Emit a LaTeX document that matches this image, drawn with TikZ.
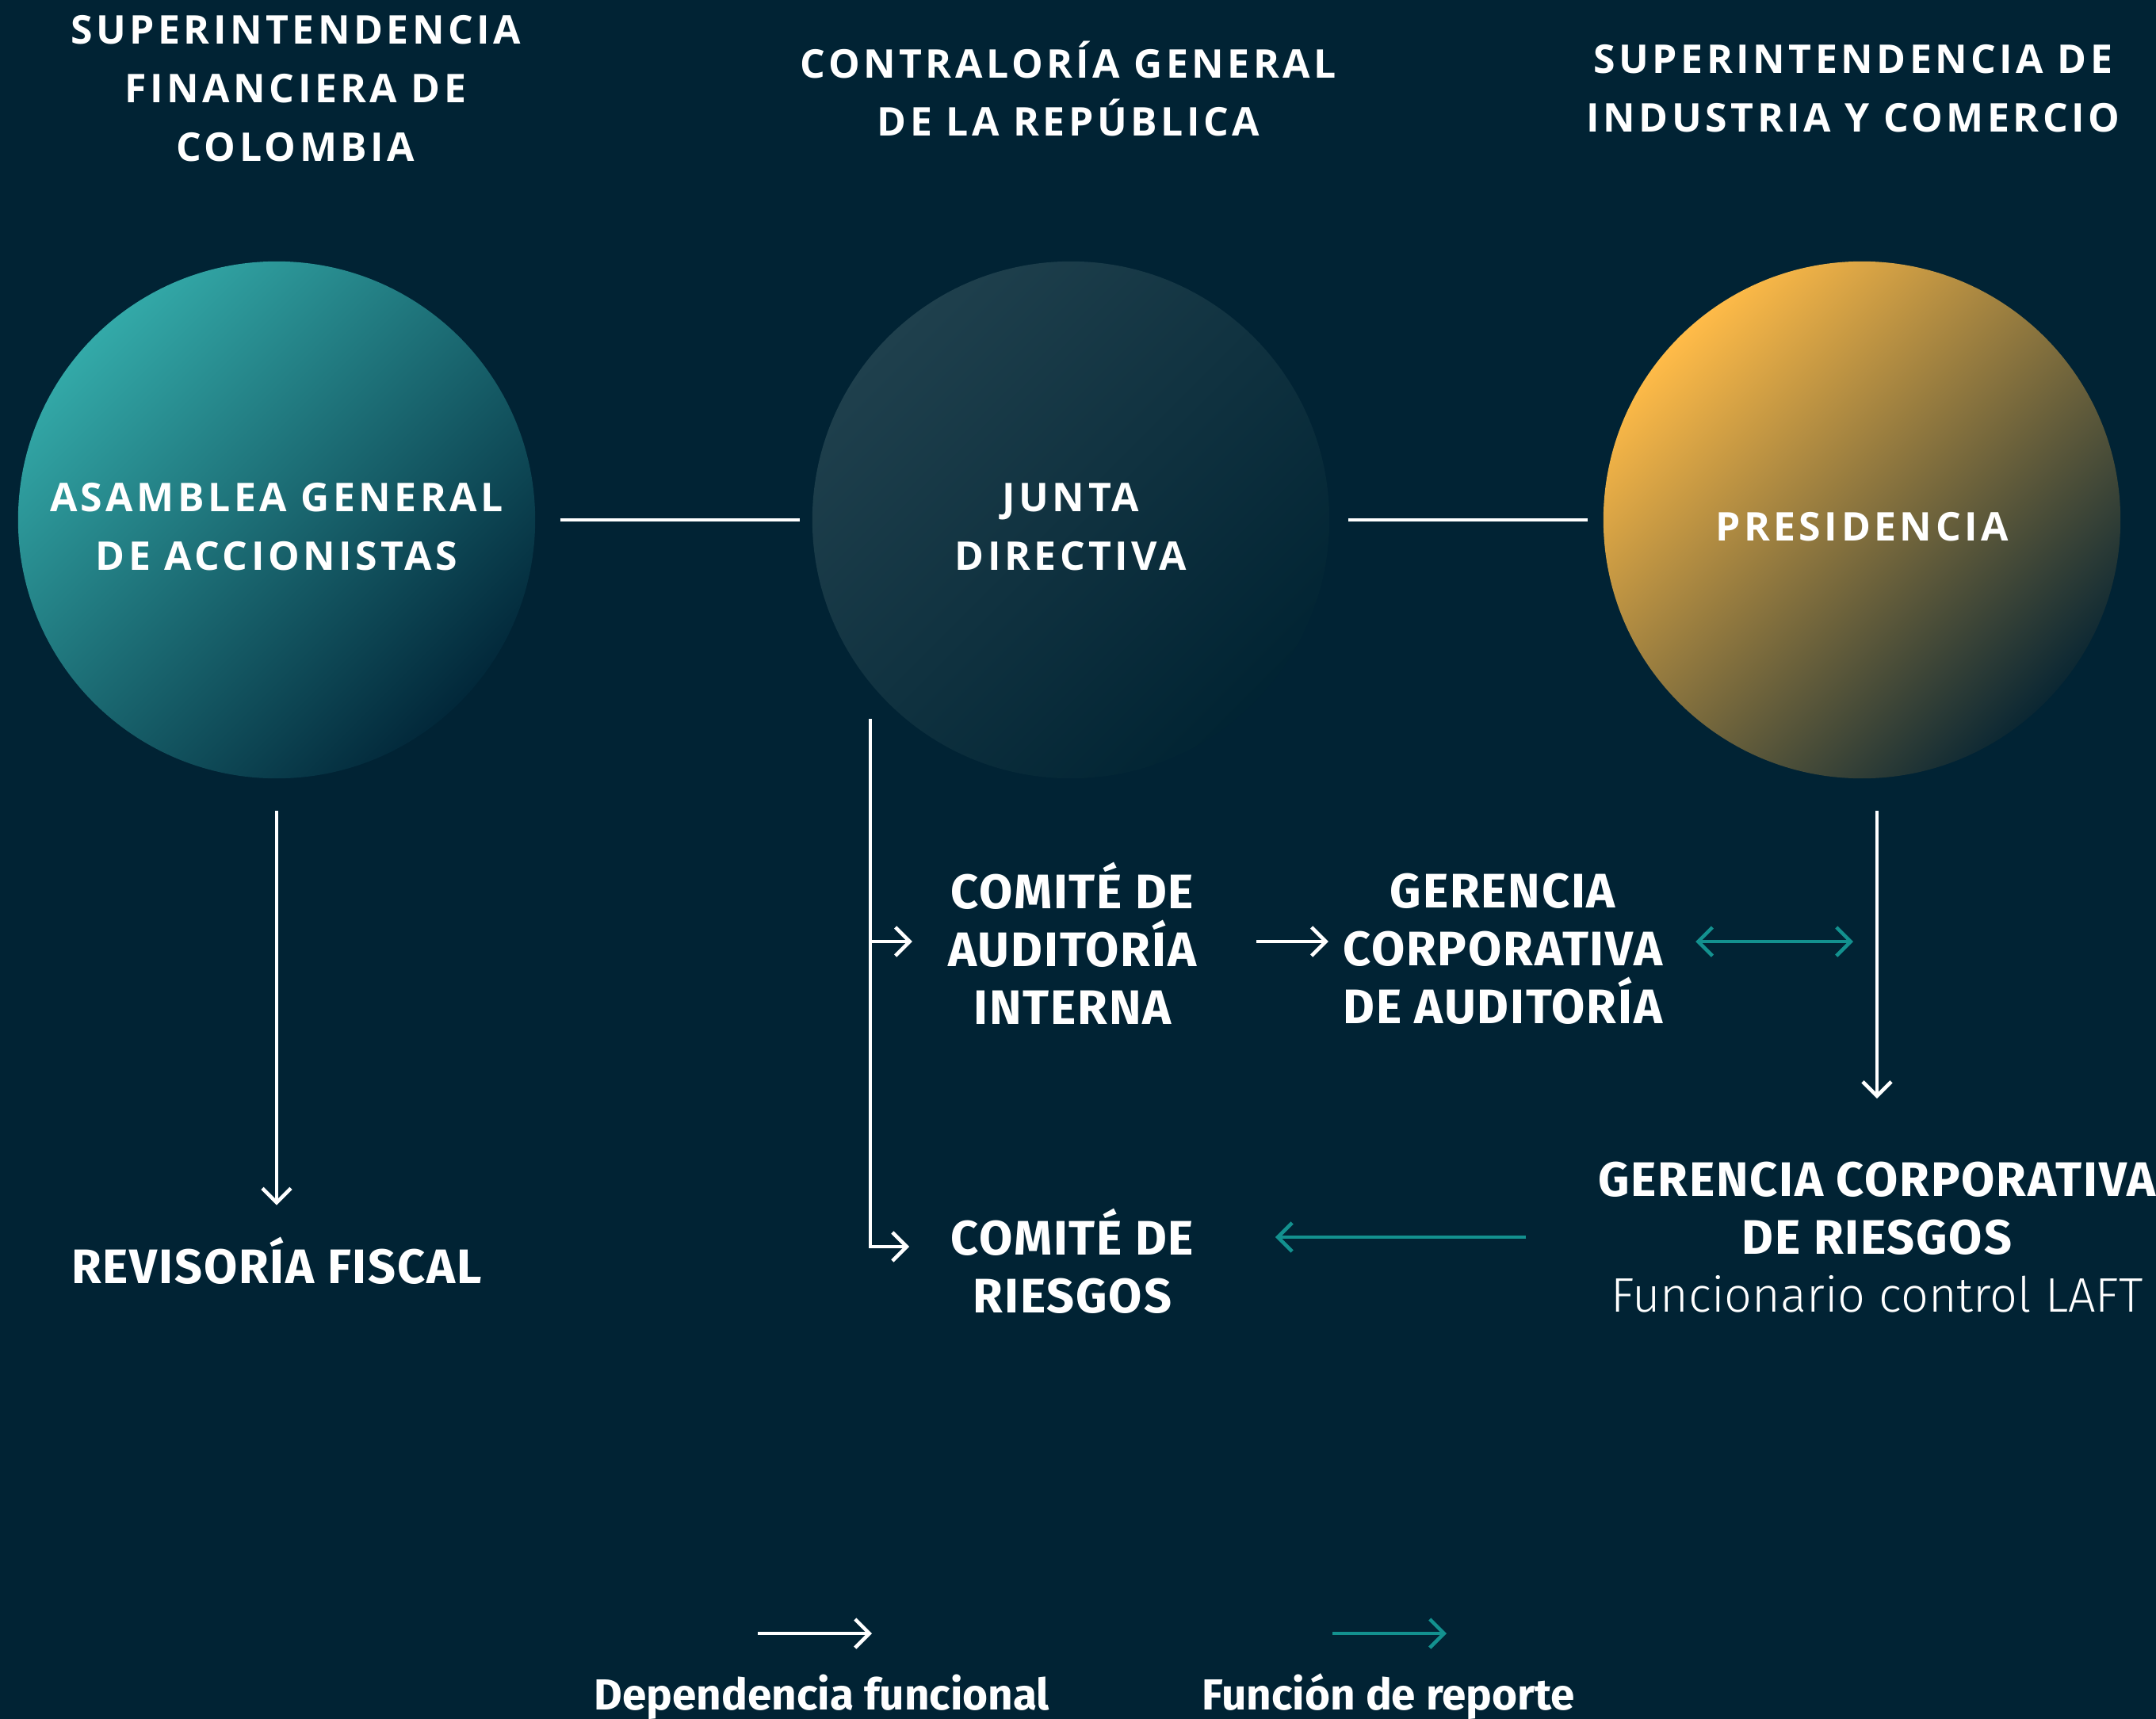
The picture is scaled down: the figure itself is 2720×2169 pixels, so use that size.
\documentclass[tikz,border=0pt]{standalone}
\usepackage{fontspec}
\setmainfont{Fira Sans}
\newfontfamily\widefont{Open Sans}[LetterSpace=9]
\newfontfamily\bodyfont{Fira Sans}[LetterSpace=3]
\newfontfamily\lightfont{Fira Sans Light}
\usetikzlibrary{arrows.meta,positioning}

\definecolor{bgcol}{HTML}{012334}
\definecolor{reportcol}{HTML}{13918F}
\definecolor{tealA}{HTML}{33A9A8}
\definecolor{tealB}{HTML}{02283A}
\definecolor{navyA}{HTML}{1F404D}
\definecolor{navyB}{HTML}{012433}
\definecolor{goldA}{HTML}{FFBB48}
\definecolor{goldB}{HTML}{0B2733}

\begin{document}
\begin{tikzpicture}[x=0.01cm, y=-0.01cm, >={Straight Barb[length=1.8mm, width=3.6mm]},
	link/.style={white, line width=1.3pt},
	flow/.style={link, ->},
	report/.style={reportcol, line width=1.3pt},
	head/.style={text=white, align=center, inner sep=0pt, font=\widefont\bfseries\fontsize{14.2}{21}\selectfont},
	body/.style={text=white, align=center, inner sep=0pt, font=\bodyfont\bfseries\fontsize{17.4}{20.8}\selectfont},
	legend/.style={text=white, inner sep=0pt, font=\bfseries\fontsize{15.6}{18}\selectfont},
	ball/.style={circle, minimum size=6.52cm, inner sep=0pt}]

\useasboundingbox (0,0) rectangle (2720,2169);
\fill[bgcol] (0,0) rectangle (2720,2169);

% supervisores
\node[head] (sfc) at (373,112) {SUPERINTENDENCIA\\FINANCIERA DE\\COLOMBIA};
\node[head] (cgr) at (1348,112) {CONTRALORÍA GENERAL\\DE LA REPÚBLICA};
\node[head] (sic) at (2338,112) {SUPERINTENDENCIA DE\\INDUSTRIA Y COMERCIO};

% organos
\node[ball, top color=tealA, bottom color=tealB, shading angle=45,
	label={[head, yshift=-0.9mm]center:{ASAMBLEA GENERAL\\DE ACCIONISTAS}}] (asamblea) at (349,656) {};
\node[ball, top color=navyA, bottom color=navyB, shading angle=45,
	label={[head, yshift=-0.9mm]center:{JUNTA\\DIRECTIVA}}] (junta) at (1351,656) {};
\node[ball, top color=goldA, bottom color=goldB, shading angle=45,
	label={[head, yshift=-0.9mm]center:PRESIDENCIA}] (presid) at (2349,656) {};

\draw[link, shorten <=0.31cm, shorten >=0.15cm] (asamblea) -- (junta);
\draw[link, shorten <=0.23cm, shorten >=0.19cm] (junta) -- (presid);

\node[body] (revisoria) at (349,1591) {REVISORÍA FISCAL};
\node[body] (comaud) at (1353,1190) {COMITÉ DE\\AUDITORÍA\\INTERNA};
\node[body] (geraud) at (1896,1197) {GERENCIA\\CORPORATIVA\\DE AUDITORÍA};
\node[body] (comries) at (1353,1591) {COMITÉ DE\\RIESGOS};
\node[body] (gerries) at (2368,1561) {GERENCIA CORPORATIVA\\DE RIESGOS\\{\lightfont\mdseries Funcionario control LAFT}};

\draw[flow, shorten <=0.4cm, shorten >=0.4cm] (asamblea) -- (revisoria);

\coordinate (jtop) at (1098,907);
\coordinate (audrow) at ([yshift=0.9mm]geraud.west -| comaud.west);
\draw[flow, shorten >=0.52cm] (jtop) |- ([yshift=1.8mm]comries.west);
\draw[flow, shorten >=0.45cm] (jtop |- audrow) -- (audrow);
\draw[flow, shorten <=0.75cm, shorten >=0.18cm] ([yshift=0.9mm]geraud.west -| comaud.east) -- ([yshift=0.9mm]geraud.west);

\draw[report, <->, shorten <=0.41cm, shorten >=0.3cm] ([yshift=0.9mm]geraud.east) -- ([yshift=0.9mm]geraud.east -| gerries.north);
\draw[flow, shorten <=0.4cm, shorten >=0.79cm] (presid.south -| gerries.north) -- (gerries.north);
\draw[report, ->, shorten <=0.9cm, shorten >=1.02cm] (gerries.west) -- (comries.east |- gerries.west);

% leyenda
\node[legend] (depfun) at (1037,2141) {Dependencia funcional};
\node[legend] (funrep) at (1752,2141) {Función de reporte};
\coordinate (depA) at (956,2061);
\coordinate (depB) at (1100,2061);
\coordinate (repA) at (1681,2061);
\coordinate (repB) at (1825,2061);
\draw[flow] (depA) -- (depB);
\draw[report, ->] (repA) -- (repB);

\end{tikzpicture}
\end{document}
